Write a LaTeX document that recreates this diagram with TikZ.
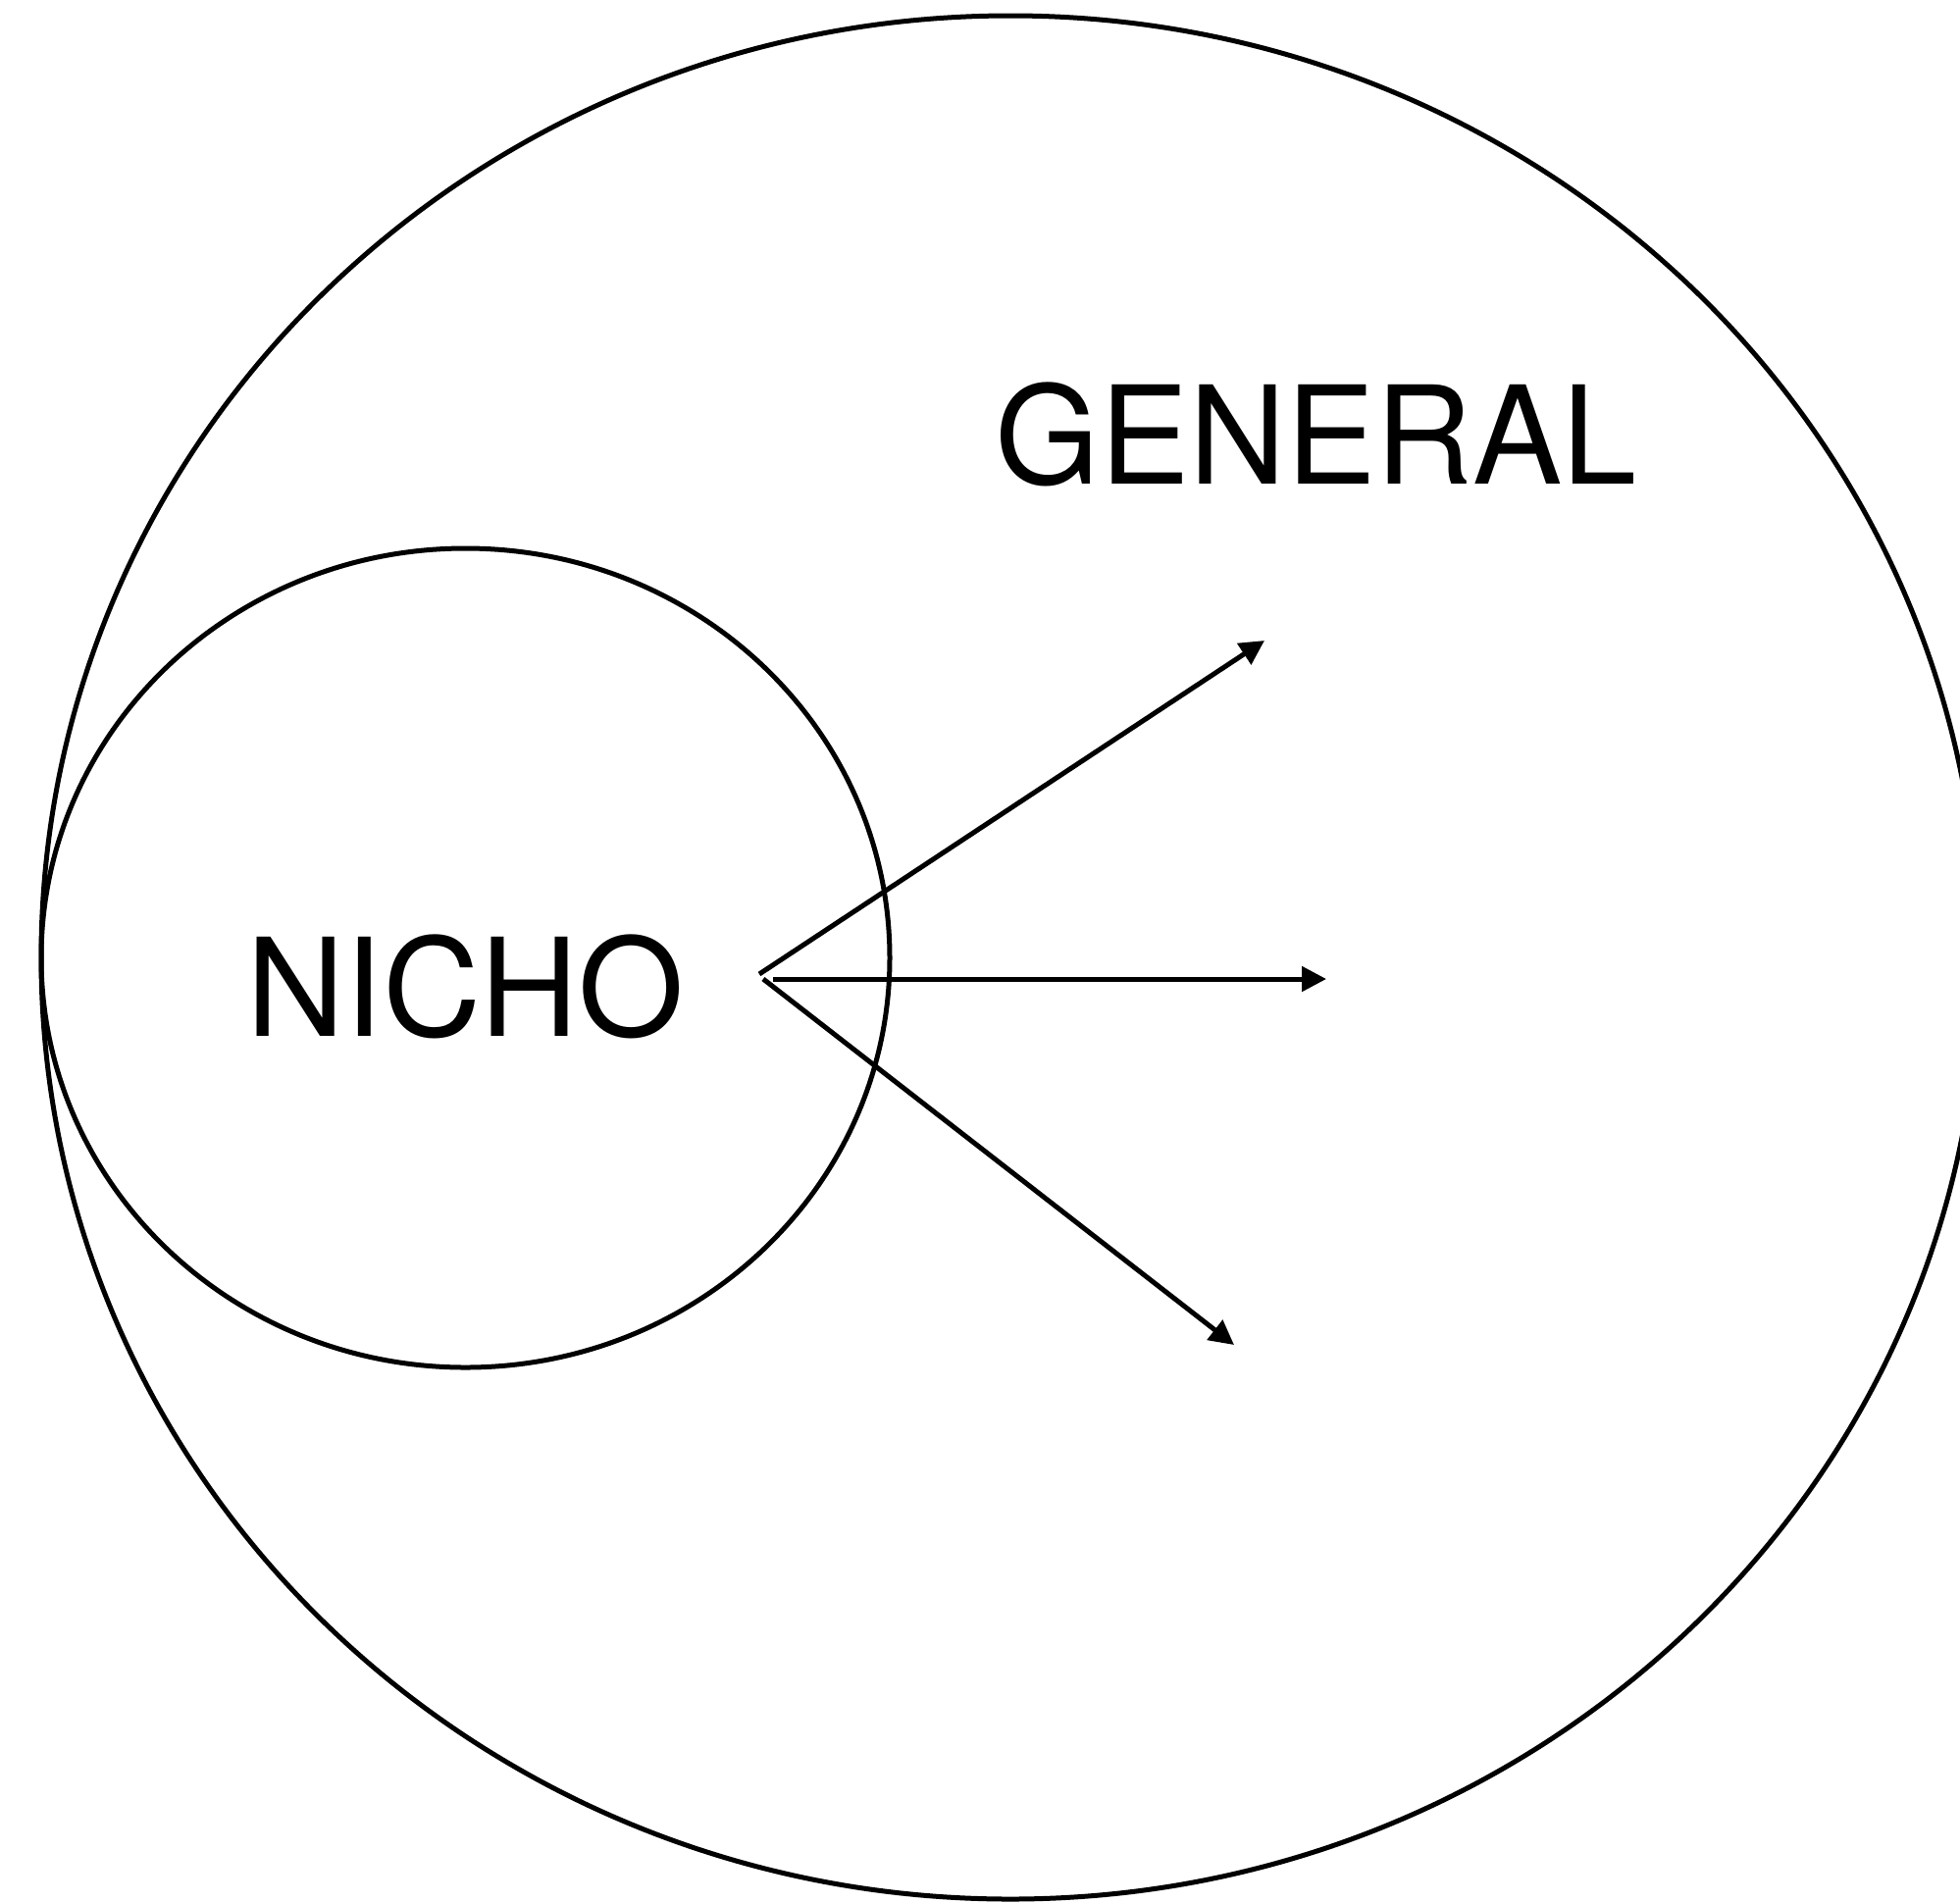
\documentclass[tikz,border=0pt]{standalone}
\usepackage{fontspec}
\setmainfont{TeX Gyre Heros}
\usetikzlibrary{arrows.meta}
\tikzset{
  outline/.style={line width=0.05cm, draw=black},
  ray/.style={line width=0.05cm, draw=black, -{Triangle[length=0.25cm,width=0.25cm]}},
  label/.style={font=\fontsize{39.5}{40}\selectfont, inner sep=0pt, anchor=base}
}
\begin{document}
\begin{tikzpicture}
\useasboundingbox (0,0) rectangle (19.98,-19.39);
\clip (0,0) rectangle (19.98,-19.39);
\draw[outline] (10.30,-9.76) ellipse [x radius=9.88, y radius=9.60];
\draw[outline] (4.745,-9.765) ellipse [x radius=4.325, y radius=4.175];
\node[label, xscale=0.985] (general) at (13.415,-4.93) {GENERAL};
\node[label] (nicho) at (4.745,-10.56) {NICHO};
\coordinate (s1) at (7.74,-9.93);
\coordinate (e1) at (12.89,-6.53);
\coordinate (s2) at (7.88,-9.98);
\coordinate (e2) at (13.52,-9.98);
\coordinate (s3) at (7.78,-9.98);
\coordinate (e3) at (12.58,-13.71);
\draw[ray] (s1) -- (e1);
\draw[ray] (s2) -- (e2);
\draw[ray] (s3) -- (e3);
\end{tikzpicture}
\end{document}
